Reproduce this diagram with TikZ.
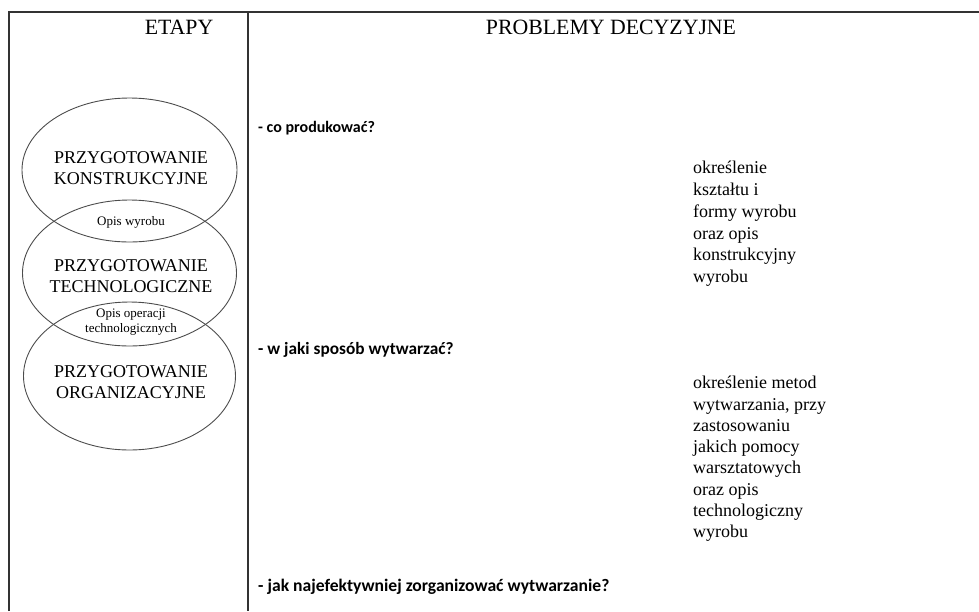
\documentclass[tikz,border=0pt]{standalone}
\usepackage{fontspec}
\setmainfont{Liberation Serif}
\newfontfamily\calib{Carlito}
\usetikzlibrary{shapes.geometric}
\tikzset{
  frameline/.style={draw=black!80, line width=1.3pt},
  stage/.style={ellipse, draw=black!70, line width=0.9pt, inner sep=0pt},
  header/.style={font=\fontsize{21.8}{26}\selectfont, inner sep=0pt},
  stagetext/.style={font=\fontsize{18}{21}\selectfont, align=center, inner sep=0pt},
  smalltext/.style={font=\fontsize{13}{15}\selectfont, align=center, inner sep=0pt},
  question/.style={font=\calib\bfseries, anchor=west, inner sep=0pt},
  desc/.style={align=left, anchor=north west, inner sep=0pt},
}
\begin{document}
\begin{tikzpicture}[x=1pt,y=-1pt]
\useasboundingbox (0,0) rectangle (979,611);
% frame
\coordinate (tl) at (9,12);
\coordinate (tr) at (979,12);
\coordinate (bl) at (9,611);
\coordinate (dt) at (248,12);
\coordinate (db) at (248,611);
\draw[frameline] (bl) -- (tl) -- (tr);
\draw[frameline] (dt) -- (db);
% headers
\node[header] (etapy) at (179,27) {ETAPY};
\node[header] (problemy) at (611,27) {PROBLEMY DECYZYJNE};
% ellipses
\node[stage, minimum width=215pt, minimum height=144pt] (e1) at (129.5,170) {};
\node[stage, minimum width=214pt, minimum height=146pt] (e2) at (129.5,273) {};
\node[stage, minimum width=212pt, minimum height=148pt] (e3) at (129.5,376) {};
\node[stagetext] (t1) at (131,168) {PRZYGOTOWANIE\\KONSTRUKCYJNE};
\node[stagetext] (t2) at (131,276) {PRZYGOTOWANIE\\TECHNOLOGICZNE};
\node[stagetext] (t3) at (131,382) {PRZYGOTOWANIE\\ORGANIZACYJNE};
\node[smalltext] (o1) at (131,222) {Opis wyrobu};
\node[smalltext] (o2) at (131,322) {Opis operacji\\technologicznych};
% questions
\node[question, font=\calib\bfseries\fontsize{16}{19}\selectfont] (q1) at (258,128) {- co produkować?};
\node[question, font=\calib\bfseries\fontsize{17.3}{20}\selectfont] (q2) at (258,350) {- w jaki sposób wytwarzać?};
\node[question, font=\calib\bfseries\fontsize{17.6}{20}\selectfont] (q3) at (258,587) {- jak najefektywniej zorganizować wytwarzanie?};
% descriptions
\node[desc, font=\fontsize{18}{21.8}\selectfont] (d1) at (693,161) {określenie\\kształtu i\\formy wyrobu\\oraz opis\\konstrukcyjny\\wyrobu};
\node[desc, font=\fontsize{18}{21.3}\selectfont] (d2) at (693,376) {określenie metod\\wytwarzania, przy\\zastosowaniu\\jakich pomocy\\warsztatowych\\oraz opis\\technologiczny\\wyrobu};
\end{tikzpicture}
\end{document}
